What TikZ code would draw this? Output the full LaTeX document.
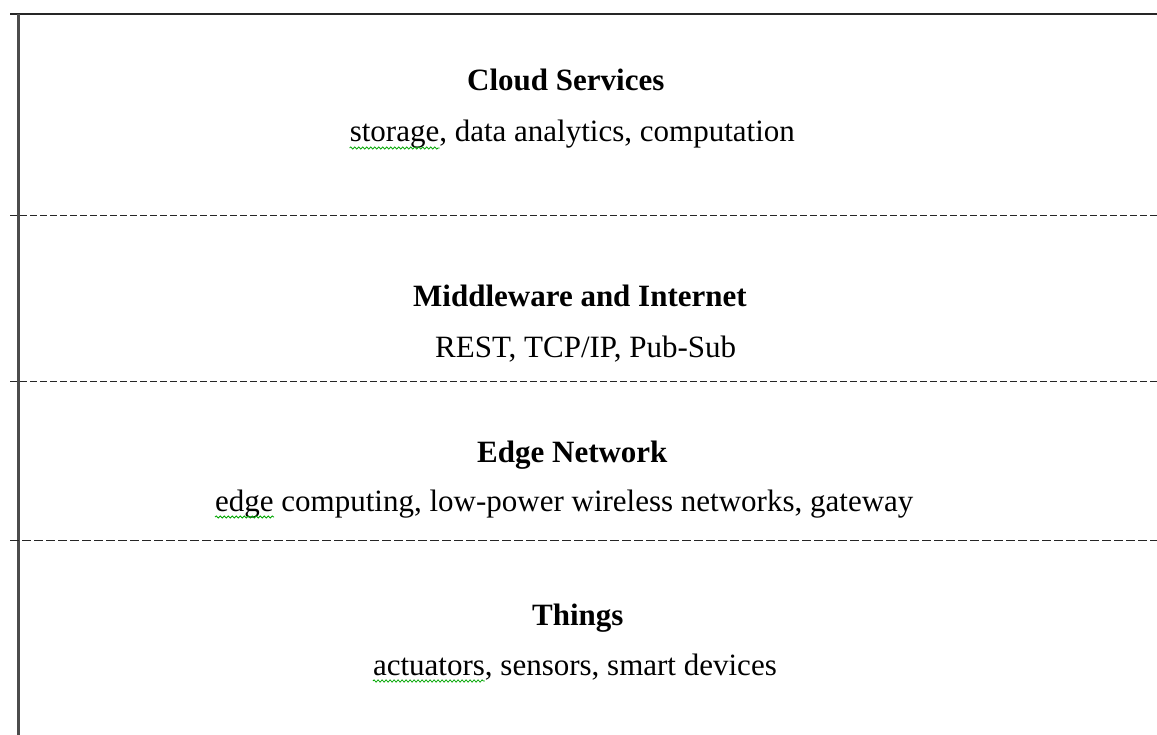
\documentclass[tikz,border=0pt]{standalone}
\usepackage{fontspec}
\setmainfont{Liberation Serif}
\usetikzlibrary{decorations.pathmorphing}
\tikzset{
  lbl/.style={inner sep=0pt, anchor=base west, font=\fontsize{31}{37}\selectfont},
  ttl/.style={lbl, font=\fontsize{31}{37}\selectfont\bfseries},
  sep/.style={line width=1.3pt, black!85, dash pattern=on 7pt off 3pt},
  sepb/.style={line width=1.3pt, black!85, dash pattern=on 9pt off 3pt},
  squig/.style={draw=green!65!black, line width=0.8pt, decorate, decoration={snake, segment length=4pt, amplitude=1.1pt}}
}
\begin{document}
\begin{tikzpicture}[x=1pt, y=-1pt]
\useasboundingbox (0,0) rectangle (1157,735);
% frame lines
\draw[line width=2pt, black!85] (10,14.5) -- (1157,14.5);
\draw[line width=2.5pt, black!70] (18.7,14.5) -- (18.7,735);
\draw[sep] (10,215.3) -- (1157,215.3);
\draw[sep] (10,381.5) -- (1157,381.5);
\draw[sepb] (10,540.5) -- (1157,540.5);
% texts
\node[ttl] (cloud) at (467,90.5) {Cloud Services};
\node[lbl, anchor=base east] (cloudsub) at (795,142) {storage, data analytics, computation};
\node[ttl] (mid) at (413,307) {Middleware and Internet};
\node[lbl] (midsub) at (435,358) {REST, TCP/IP, Pub-Sub};
\node[ttl] (edge) at (477,462) {Edge Network};
\node[lbl] (edgesub) at (215,511) {edge computing, low-power wireless networks, gateway};
\node[ttl] (things) at (532,625) {Things};
\node[lbl, anchor=base east] (thingssub) at (777,675) {actuators, sensors, smart devices};
% spell-check underlines
\draw[squig] ([yshift=-6pt]cloudsub.base west) -- ++(90,0);
\draw[squig] ([yshift=-6pt]edgesub.base west) -- ++(59,0);
\draw[squig] ([yshift=-6pt]thingssub.base west) -- ++(112,0);
\end{tikzpicture}
\end{document}
